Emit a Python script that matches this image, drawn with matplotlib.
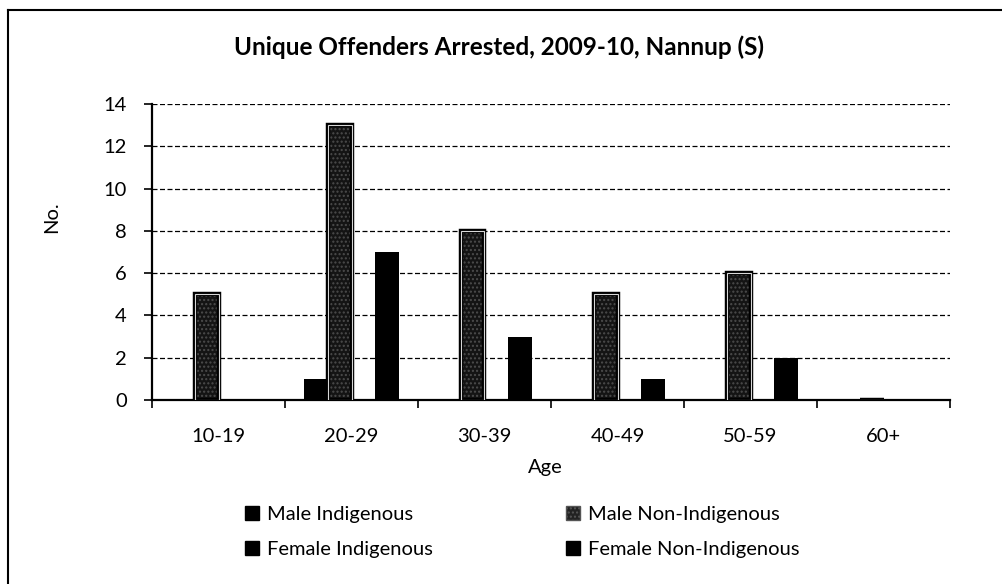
import matplotlib
matplotlib.use("Agg")
import matplotlib.pyplot as plt
from matplotlib.lines import Line2D
from matplotlib.patches import Patch
import numpy as np

plt.rcParams['font.family'] = ['Lato', 'DejaVu Sans']

categories = ['10-19', '20-29', '30-39', '40-49', '50-59', '60+']
male_indigenous = [0, 1, 0, 0, 0, 0]
male_non_indigenous = [5, 13, 8, 5, 6, 0]
female_indigenous = [0, 0, 0, 0, 0, 0]
female_non_indigenous = [0, 7, 3, 1, 2, 0]
series_names = ['Male Indigenous', 'Male Non-Indigenous',
                'Female Indigenous', 'Female Non-Indigenous']
yticks = [0, 2, 4, 6, 8, 10, 12, 14]
title = 'Unique Offenders Arrested, 2009-10, Nannup (S)'

FS = 14.5

W, H = 1002, 584
fig = plt.figure(figsize=(W / 100, H / 100), dpi=100)
ax = fig.add_axes([152 / W, 1 - 400 / H, 798 / W, 296 / H])

x = np.arange(len(categories))
bw = 0.18

ax.bar(x - 1.5 * bw, male_indigenous, bw, color='black', zorder=3)
# male non-indigenous: stippled dark fill, black outer edge, light inner edge
ax.bar(x - 0.5 * bw, male_non_indigenous, bw, facecolor='#141414',
       edgecolor='#4c4c4c', linewidth=0, hatch='....', zorder=3)
ax.bar(x - 0.5 * bw, male_non_indigenous, bw, facecolor='none',
       edgecolor='black', linewidth=3.2, zorder=4)
ax.bar(x - 0.5 * bw, male_non_indigenous, bw, facecolor='none',
       edgecolor='#d8d8d8', linewidth=0.8, zorder=5)
ax.bar(x + 0.5 * bw, female_indigenous, bw, color='black', zorder=3)
ax.bar(x + 1.5 * bw, female_non_indigenous, bw, color='black', zorder=3)

ax.set_xlim(-0.5, len(categories) - 0.5)
ax.set_ylim(0, 14)
ax.set_yticks(yticks)
ax.yaxis.grid(True, linestyle=(0, (4, 2)), color='black', linewidth=0.9)
ax.set_axisbelow(True)

for s in ['top', 'right']:
    ax.spines[s].set_visible(False)
for s in ['left', 'bottom']:
    ax.spines[s].set_linewidth(1.6)
    ax.spines[s].set_color('black')

ax.tick_params(axis='y', length=6, width=1.2, labelsize=FS, pad=12)
ax.set_xticks(x)
ax.set_xticklabels(categories)
ax.tick_params(axis='x', which='major', length=0, pad=20, labelsize=FS)
ax.set_xticks(np.arange(-0.5, len(categories), 1.0), minor=True)
ax.tick_params(axis='x', which='minor', length=6, width=1.2)

fig.text(52 / W, 1 - 217 / H, 'No.', rotation=90, ha='center', va='center',
         fontsize=FS)
fig.text(545 / W, 1 - 467 / H, 'Age', ha='center', va='center', fontsize=FS)
fig.text(499 / W, 1 - 47 / H, title, ha='center', va='center',
         fontsize=17.5, fontweight='bold')

h_mi = Patch(facecolor='black', edgecolor='black')
h_mni = Patch(facecolor='#222222', edgecolor='#555555', hatch='....')
h_fi = Patch(facecolor='black', edgecolor='black')
h_fni = Patch(facecolor='black', edgecolor='black')

common = dict(frameon=False, fontsize=FS, handlelength=0.7, handleheight=0.7,
              handletextpad=0.4, labelspacing=0.9, borderaxespad=0,
              borderpad=0, loc='center left')
leg1 = fig.legend(handles=[h_mi, h_fi], labels=[series_names[0], series_names[2]],
                  bbox_to_anchor=(245 / W, 1 - 532 / H), **common)
leg2 = fig.legend(handles=[h_mni, h_fni], labels=[series_names[1], series_names[3]],
                  bbox_to_anchor=(566 / W, 1 - 532 / H), **common)

# outer chart frame (left and top edges visible)
fig.add_artist(Line2D([8 / W, 8 / W], [0, 1 - 10 / H], color='black',
                      linewidth=1.5, transform=fig.transFigure))
fig.add_artist(Line2D([8 / W, 1], [1 - 10 / H, 1 - 10 / H], color='black',
                      linewidth=1.5, transform=fig.transFigure))

fig.savefig('out.png', dpi=100)
